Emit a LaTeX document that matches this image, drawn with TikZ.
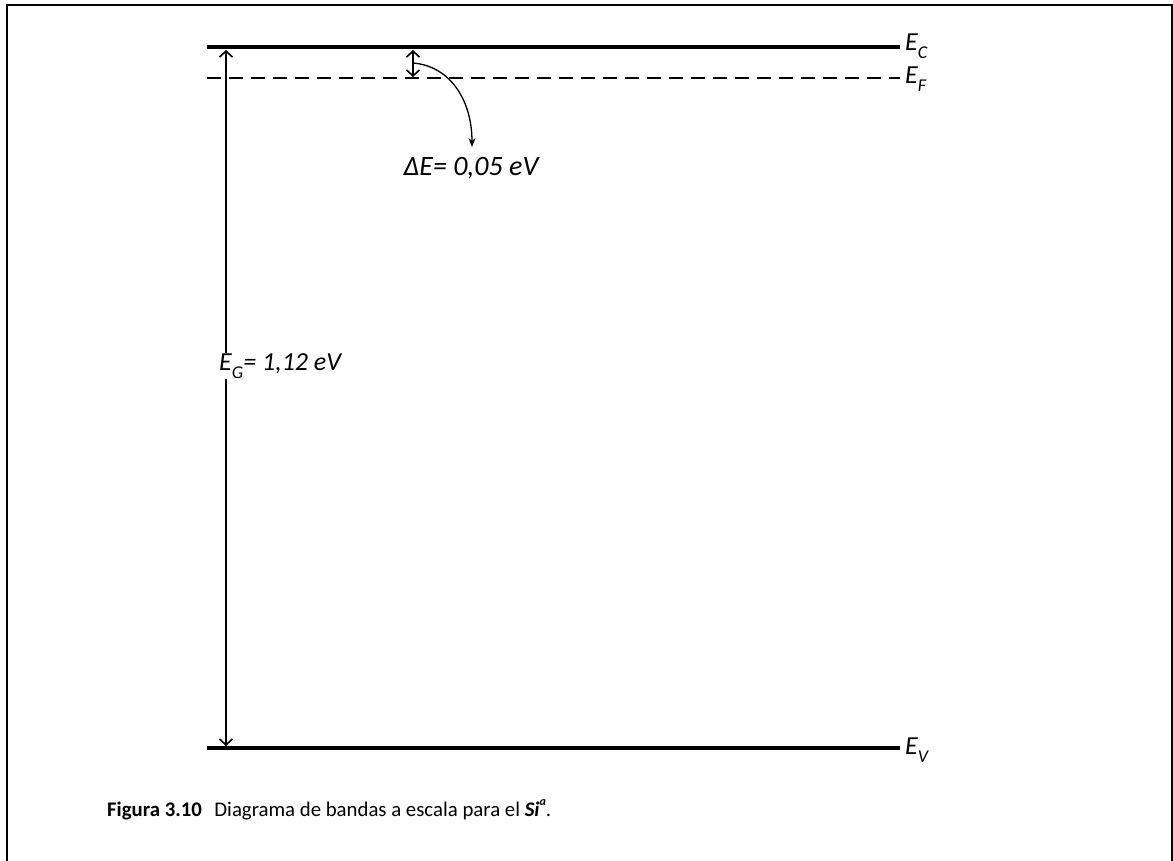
\documentclass[tikz,border=0pt]{standalone}
\usepackage{fontspec}
\setmainfont{Carlito}
\usetikzlibrary{arrows.meta}
\begin{document}
\begin{tikzpicture}[x=1pt,y=-1pt,
  band/.style={line width=4.5pt},
  fermi/.style={line width=1.8pt,dash pattern=on 14pt off 8pt},
  lbl/.style={inner sep=0pt,font=\fontsize{26}{28}\selectfont\itshape},
  biglbl/.style={inner sep=0pt,font=\fontsize{28}{30}\selectfont\itshape},
  barb/.tip={Straight Barb[length=6pt,width=13pt,line width=1.6pt]},
  dim/.style={line width=1.6pt,{barb}-{barb}},
  frame/.style={line width=1.6pt}]
\useasboundingbox (0,0) rectangle (1173,860);
\draw[frame] (7,870) -- (7,5) -- (1172,5) -- (1172,870);
% levels
\coordinate (c1) at (207,47); \coordinate (c2) at (900,47);
\coordinate (f1) at (207,78); \coordinate (f2) at (900,78);
\coordinate (v1) at (207,748); \coordinate (v2) at (900,748);
\draw[band] (c1) -- (c2);
\draw[fermi] (f1) -- (f2);
\draw[band] (v1) -- (v2);
\node[lbl,anchor=west] (ec) at (905,46) {E\raisebox{-0.3em}{\fontsize{18}{20}\selectfont C}};
\node[lbl,anchor=west] (ef) at (905,79) {E\raisebox{-0.3em}{\fontsize{18}{20}\selectfont F}};
\node[lbl,anchor=west] (ev) at (905,750) {E\raisebox{-0.3em}{\fontsize{18}{20}\selectfont V}};
% band gap
\node[biglbl,font=\fontsize{26}{28}\selectfont\itshape,anchor=west] (eg) at (219,366) {E\raisebox{-0.3em}{\fontsize{18}{20}\selectfont G}= 1,12 eV};
\coordinate (gt) at (226,50); \coordinate (gb) at (226,746);
\draw[line width=1.6pt,-{barb}] (eg.north -| gt) -- (gt);
\draw[line width=1.6pt,-{barb}] (eg.south -| gb) -- (gb);
% delta E
\coordinate (dt) at (413,50); \coordinate (db) at (413,77);
\draw[dim] (dt) -- (db);
\node[biglbl] (de) at (471,168) {ΔE= 0,05 eV};
\coordinate (ds) at (413,63);
\draw[line width=1.3pt,-{Stealth[length=9pt,width=7pt]}] (ds) .. controls (450,66) and (472,100) .. (472,147);
% caption
\node[inner sep=0pt,anchor=west,font=\fontsize{20.8}{22}\selectfont] (cap) at (107,810)
  {\textbf{Figura 3.10}\hspace{0.6em}Diagrama de bandas a escala para el \textbf{\itshape Si}\raisebox{0.5em}{\fontsize{12}{13}\selectfont\bfseries\itshape a}.};
\end{tikzpicture}
\end{document}
